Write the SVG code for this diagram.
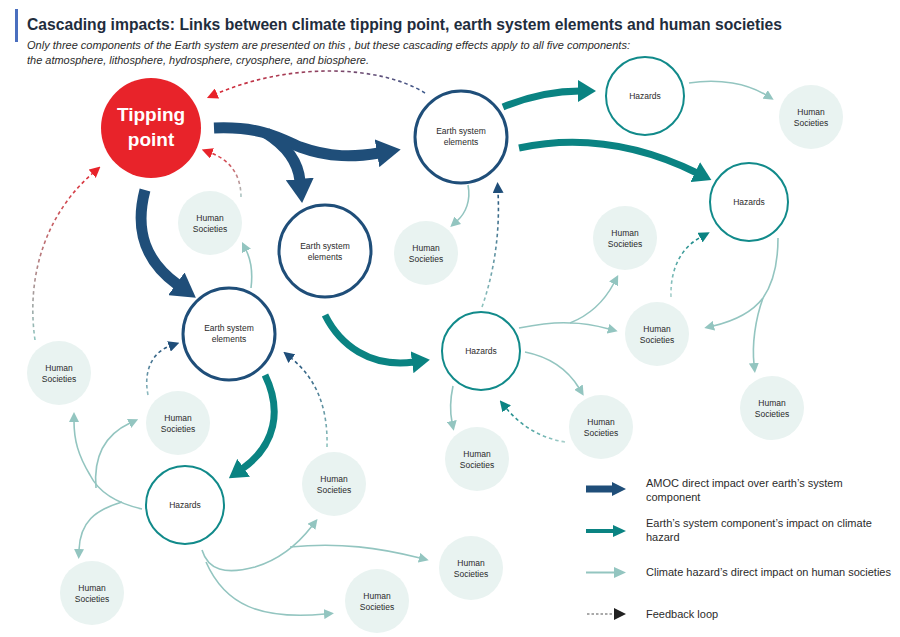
<svg xmlns="http://www.w3.org/2000/svg" width="900" height="637" viewBox="0 0 900 637">
<style>
.t{font-family:"Liberation Sans",Arial,sans-serif;fill:#2b2b2b}
.tw{fill:#fff}
.ttl{fill:#1f2d3d}
.nt{font-family:"Liberation Sans",Arial,sans-serif;font-size:8.5px;fill:#2b2b2b;text-anchor:middle}
.ese{fill:#fff;stroke:#1f4e79;stroke-width:3}
.hz{fill:#fff;stroke:#118a8a;stroke-width:2}
.hs{fill:#e9f3f1}
.dk{fill:none;stroke:#1f4e79;stroke-width:11;marker-end:url(#mDark)}
.tl{fill:none;stroke:#0a8382;stroke-width:7;marker-end:url(#mTeal)}
.lt{fill:none;stroke:#93c5c0;stroke-width:1.6}
.lta{marker-end:url(#mLight)}
.ds{fill:none;stroke-width:1.6;stroke-dasharray:3.5 3}
.lg{font-family:"Liberation Sans",Arial,sans-serif;font-size:11px;fill:#2b2b2b}
</style>
<defs>
<marker id="mDark" markerUnits="userSpaceOnUse" viewBox="0 0 24 28" refX="2" refY="14" markerWidth="24" markerHeight="28" orient="auto"><path d="M0,0 L24,14 L0,28 z" fill="#1f4e79"/></marker>
<marker id="mTeal" markerUnits="userSpaceOnUse" viewBox="0 0 18 22" refX="2" refY="11" markerWidth="18" markerHeight="22" orient="auto"><path d="M0,0 L18,11 L0,22 z" fill="#0a8382"/></marker>
<marker id="mLight" markerUnits="userSpaceOnUse" viewBox="0 0 10 10" refX="1" refY="5" markerWidth="10" markerHeight="10" orient="auto"><path d="M0,0 L10,5 L0,10 z" fill="#93c5c0"/></marker>
<marker id="mRed" markerUnits="userSpaceOnUse" viewBox="0 0 10 10" refX="1" refY="5" markerWidth="11" markerHeight="11" orient="auto"><path d="M0,0 L10,5 L0,10 z" fill="#e8232a"/></marker>
<marker id="mBlue" markerUnits="userSpaceOnUse" viewBox="0 0 10 10" refX="1" refY="5" markerWidth="11" markerHeight="11" orient="auto"><path d="M0,0 L10,5 L0,10 z" fill="#1f4e79"/></marker>
<marker id="mTeal2" markerUnits="userSpaceOnUse" viewBox="0 0 10 10" refX="1" refY="5" markerWidth="11" markerHeight="11" orient="auto"><path d="M0,0 L10,5 L0,10 z" fill="#0a8382"/></marker>
<linearGradient id="gTop" gradientUnits="userSpaceOnUse" x1="425" y1="0" x2="208" y2="0"><stop offset="0" stop-color="#3d5a8c"/><stop offset="1" stop-color="#e02a35"/></linearGradient>
<linearGradient id="gHs8" gradientUnits="userSpaceOnUse" x1="0" y1="197" x2="0" y2="150"><stop offset="0" stop-color="#a9c9c6"/><stop offset="1" stop-color="#e02a35"/></linearGradient>
<linearGradient id="gHs9" gradientUnits="userSpaceOnUse" x1="0" y1="340" x2="0" y2="167"><stop offset="0" stop-color="#8fc4bf"/><stop offset="1" stop-color="#e02a35"/></linearGradient>
<linearGradient id="gBlueUp1" gradientUnits="userSpaceOnUse" x1="0" y1="395" x2="0" y2="342"><stop offset="0" stop-color="#8fbcc0"/><stop offset="1" stop-color="#1f4e79"/></linearGradient>
<linearGradient id="gBlueUp2" gradientUnits="userSpaceOnUse" x1="0" y1="447" x2="0" y2="352"><stop offset="0" stop-color="#8fc4bf"/><stop offset="1" stop-color="#1f4e79"/></linearGradient>
<linearGradient id="gBlueUp3" gradientUnits="userSpaceOnUse" x1="0" y1="307" x2="0" y2="183"><stop offset="0" stop-color="#8fc4bf"/><stop offset="1" stop-color="#1f4e79"/></linearGradient>
<linearGradient id="gTealUp1" gradientUnits="userSpaceOnUse" x1="565" y1="0" x2="500" y2="0"><stop offset="0" stop-color="#a9d0cc"/><stop offset="1" stop-color="#0a8382"/></linearGradient>
<linearGradient id="gTealUp2" gradientUnits="userSpaceOnUse" x1="0" y1="297" x2="0" y2="232"><stop offset="0" stop-color="#a9d0cc"/><stop offset="1" stop-color="#0a8382"/></linearGradient>
</defs>

<rect width="900" height="637" fill="#fff"/>

<g id="header">
<rect x="15" y="9" width="3" height="33" fill="#4a6fbf"/>
<text class="t ttl" x="27" y="30" font-size="17" font-weight="bold" textLength="755" lengthAdjust="spacingAndGlyphs">Cascading impacts: Links between climate tipping point, earth system elements and human societies</text>
<text class="t" x="27" y="49" font-size="10.5" font-style="italic" textLength="603" lengthAdjust="spacingAndGlyphs">Only three components of the Earth system are presented on this , but these cascading effects apply to all five components:</text>
<text class="t" x="27" y="64" font-size="10.5" font-style="italic" textLength="342" lengthAdjust="spacingAndGlyphs">the atmosphere, lithosphere, hydrosphere, cryosphere, and biosphere.</text>
</g>

<g id="connectors">
<path class="dk" d="M214,128 C260,126 280,138 300,147 C330,158 355,157 379,153"/>
<path class="dk" d="M266,133 C285,145 298,160 300,181"/>
<path class="dk" d="M145,190 C134,232 146,262 178,285"/>
<path class="tl" d="M503,107 C530,96 555,91 580,91"/>
<path class="tl" d="M519,148 C580,135 640,145 697,173"/>
<path class="tl" d="M325,315 C340,345 370,368 414,362"/>
<path class="tl" d="M265,375 C282,410 276,445 242,469"/>
<path class="lt lta" d="M689,83 C720,78 748,84 766,95"/>
<path class="lt lta" d="M468,185 C471,200 466,213 457,221"/>
<path class="lt lta" d="M251,288 C253,272 251,260 246,250"/>
<path class="lt" d="M519,328 C540,324 555,322 570,323"/>
<path class="lt lta" d="M570,323 C590,315 605,300 614,283"/>
<path class="lt lta" d="M570,323 C585,323 598,326 609,329"/>
<path class="lt lta" d="M525,352 C550,357 568,370 579,388"/>
<path class="lt lta" d="M453,386 C450,400 450,412 452,422"/>
<path class="lt" d="M778,238 C778,265 772,285 763,298"/>
<path class="lt lta" d="M763,298 C750,315 730,322 713,326"/>
<path class="lt lta" d="M763,298 C755,320 752,345 754,364"/>
<path class="lt lta" d="M142,509 C120,504 100,495 90,475 C78,455 74,440 74,421"/>
<path class="lt lta" d="M96,488 C94,465 98,438 130,423"/>
<path class="lt lta" d="M122,502 C95,510 80,522 79,550"/>
<path class="lt lta" d="M202,550 C208,570 225,575 255,567 C275,561 295,548 312,526"/>
<path class="lt lta" d="M290,547 C340,542 380,548 420,558"/>
<path class="lt lta" d="M206,562 C225,605 260,620 325,614"/>
<path class="ds" stroke="url(#gTop)" marker-end="url(#mRed)" d="M425,93 C380,65 290,62 216,94"/>
<path class="ds" stroke="url(#gHs8)" marker-end="url(#mRed)" d="M241,197 C241,175 230,160 211,153"/>
<path class="ds" stroke="url(#gHs9)" marker-end="url(#mRed)" d="M35,340 C25,270 50,210 93,173"/>
<path class="ds" stroke="url(#gBlueUp1)" marker-end="url(#mBlue)" d="M148,395 C143,370 153,352 170,346"/>
<path class="ds" stroke="url(#gBlueUp2)" marker-end="url(#mBlue)" d="M327,447 C328,410 318,380 291,358"/>
<path class="ds" stroke="url(#gBlueUp3)" marker-end="url(#mBlue)" d="M482,307 C495,270 500,230 498,192"/>
<path class="ds" stroke="url(#gTealUp1)" marker-end="url(#mTeal2)" d="M565,442 C540,438 520,425 506,408"/>
<path class="ds" stroke="url(#gTealUp2)" marker-end="url(#mTeal2)" d="M671,297 C670,265 684,246 701,237"/>
</g>

<g id="tipping-point">
<circle cx="151" cy="128" r="50" fill="#e8232a"/>
<text class="t tw" x="151" y="121" font-size="19" font-weight="bold" text-anchor="middle">Tipping</text>
<text class="t tw" x="151" y="146" font-size="19" font-weight="bold" text-anchor="middle">point</text>
</g>

<g id="ese-1"><circle class="ese" cx="461" cy="137" r="46"/><text class="nt" x="461" y="134">Earth system</text><text class="nt" x="461" y="145">elements</text></g>
<g id="ese-2"><circle class="ese" cx="325" cy="251" r="46"/><text class="nt" x="325" y="249">Earth system</text><text class="nt" x="325" y="260">elements</text></g>
<g id="ese-3"><circle class="ese" cx="229" cy="334" r="46"/><text class="nt" x="229" y="331">Earth system</text><text class="nt" x="229" y="342">elements</text></g>

<g id="hazards-a"><circle class="hz" cx="645" cy="96" r="39"/><text class="nt" x="645" y="99">Hazards</text></g>
<g id="hazards-b"><circle class="hz" cx="749" cy="202" r="39"/><text class="nt" x="749" y="205">Hazards</text></g>
<g id="hazards-c"><circle class="hz" cx="481" cy="351" r="39"/><text class="nt" x="481" y="354">Hazards</text></g>
<g id="hazards-d"><circle class="hz" cx="185" cy="505" r="39"/><text class="nt" x="185" y="508">Hazards</text></g>

<g id="hs-1"><circle class="hs" cx="811" cy="117" r="32"/><text class="nt" x="811" y="115">Human</text><text class="nt" x="811" y="126">Societies</text></g>
<g id="hs-2"><circle class="hs" cx="426" cy="253" r="32"/><text class="nt" x="426" y="251">Human</text><text class="nt" x="426" y="262">Societies</text></g>
<g id="hs-3"><circle class="hs" cx="625" cy="238" r="32"/><text class="nt" x="625" y="236">Human</text><text class="nt" x="625" y="247">Societies</text></g>
<g id="hs-4"><circle class="hs" cx="657" cy="334" r="32"/><text class="nt" x="657" y="332">Human</text><text class="nt" x="657" y="343">Societies</text></g>
<g id="hs-5"><circle class="hs" cx="772" cy="408" r="32"/><text class="nt" x="772" y="406">Human</text><text class="nt" x="772" y="417">Societies</text></g>
<g id="hs-6"><circle class="hs" cx="601" cy="427" r="32"/><text class="nt" x="601" y="425">Human</text><text class="nt" x="601" y="436">Societies</text></g>
<g id="hs-7"><circle class="hs" cx="477" cy="459" r="32"/><text class="nt" x="477" y="457">Human</text><text class="nt" x="477" y="468">Societies</text></g>
<g id="hs-8"><circle class="hs" cx="210" cy="223" r="32"/><text class="nt" x="210" y="221">Human</text><text class="nt" x="210" y="232">Societies</text></g>
<g id="hs-9"><circle class="hs" cx="59" cy="373" r="32"/><text class="nt" x="59" y="371">Human</text><text class="nt" x="59" y="382">Societies</text></g>
<g id="hs-10"><circle class="hs" cx="178" cy="423" r="32"/><text class="nt" x="178" y="421">Human</text><text class="nt" x="178" y="432">Societies</text></g>
<g id="hs-11"><circle class="hs" cx="334" cy="484" r="32"/><text class="nt" x="334" y="482">Human</text><text class="nt" x="334" y="493">Societies</text></g>
<g id="hs-12"><circle class="hs" cx="471" cy="568" r="32"/><text class="nt" x="471" y="566">Human</text><text class="nt" x="471" y="577">Societies</text></g>
<g id="hs-13"><circle class="hs" cx="377" cy="601" r="32"/><text class="nt" x="377" y="599">Human</text><text class="nt" x="377" y="610">Societies</text></g>
<g id="hs-14"><circle class="hs" cx="92" cy="593" r="32"/><text class="nt" x="92" y="591">Human</text><text class="nt" x="92" y="602">Societies</text></g>

<g id="legend">
<rect x="586" y="485.5" width="28" height="7" fill="#1f4e79"/>
<polygon points="612,482 626,489 612,496" fill="#1f4e79"/>
<text class="lg" x="646" y="487">AMOC direct impact over earth’s system</text>
<text class="lg" x="646" y="501">component</text>
<rect x="586" y="529" width="28" height="4" fill="#0a8382"/>
<polygon points="613,525 626,531 613,537" fill="#0a8382"/>
<text class="lg" x="646" y="527">Earth’s system component’s impact on climate</text>
<text class="lg" x="646" y="541">hazard</text>
<rect x="586" y="571.5" width="28" height="2" fill="#93c5c0"/>
<polygon points="614,567 626,572.5 614,578" fill="#93c5c0"/>
<text class="lg" x="646" y="576">Climate hazard’s direct impact on human societies</text>
<line x1="587" y1="614" x2="613" y2="614" stroke="#555" stroke-width="1.2" stroke-dasharray="2.5 2"/>
<polygon points="614,608 626,614 614,620" fill="#222"/>
<text class="lg" x="646" y="618">Feedback loop</text>
</g>
</svg>
